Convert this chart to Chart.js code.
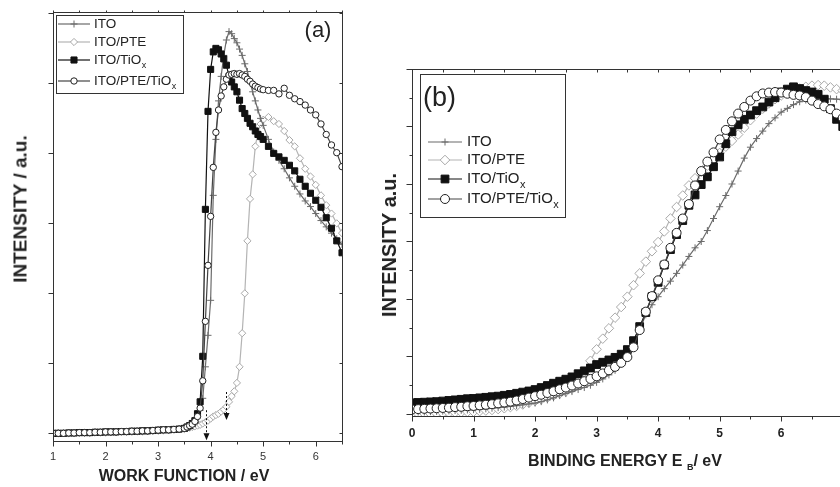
<!DOCTYPE html>
<html>
<head>
<meta charset="utf-8">
<script src="https://cdn.jsdelivr.net/npm/chart.js@4/dist/chart.umd.min.js"></script>
<style>
html, body { margin: 0; padding: 0; background: #fff; }
#wrap { position: relative; width: 840px; height: 487px; overflow: hidden; font-family: "Liberation Sans", Arial, sans-serif; color: #222; }
#boxA { position: absolute; left: 0; top: 0; width: 360px; height: 487px; }
#boxB { position: absolute; left: 380px; top: 0; width: 500px; height: 487px; }
.t { position: absolute; white-space: nowrap; line-height: 1; }
.b { font-weight: bold; }
.rot { transform: translate(-50%, -50%) rotate(-90deg); }
.hor { transform: translate(-50%, -50%); }
sub { font-size: 9px; vertical-align: -4px; }
</style>
</head>
<body>
<div id="wrap">
  <div id="boxA"><canvas id="chartA"></canvas></div>
  <div id="boxB"><canvas id="chartB"></canvas></div>
  <div class="t b rot" style="left:20px; top:209px; font-size:19px;">INTENSITY / a.u.</div>
  <div class="t b hor" style="left:184px; top:476px; font-size:16px;">WORK FUNCTION / eV</div>
  <div class="t hor" style="left:318px; top:30px; font-size:22px;">(a)</div>
  <div class="t b rot" style="left:389px; top:245px; font-size:20px;">INTENSITY a.u.</div>
  <div class="t b hor" style="left:625px; top:462px; font-size:16px;">BINDING ENERGY E <sub>B</sub>/ eV</div>
  <div class="t" style="left:423px; top:84px; font-size:27px;">(b)</div>
</div>
<script>
// series names (legend order)
const seriesNames = ['ITO', 'ITO/PTE', 'ITO/TiO_x', 'ITO/PTE/TiO_x'];

// ---- panel (a): work function ----
const wfX = [1.0,1.1,1.2,1.3,1.4,1.5,1.6,1.7,1.8,1.9,2.0,2.1,2.2,2.3,2.4,2.5,2.6,2.7,2.8,2.9,3.0,3.1,3.2,3.3,3.4,3.5,
  3.55,3.6,3.65,3.7,3.75,3.8,3.85,3.9,3.95,4.0,4.05,4.1,4.15,4.2,4.25,4.3,4.35,4.4,4.45,4.5,4.55,4.6,4.65,4.7,4.75,4.8,4.85,4.9,4.95,5.0,
  5.1,5.2,5.3,5.4,5.5,5.6,5.7,5.8,5.9,6.0,6.1,6.2,6.3,6.4,6.5];

const wfITO = [0,0,0,0.005,0.005,0.01,0.01,0.01,0.015,0.015,0.02,0.02,0.02,0.025,0.025,0.03,0.03,0.035,0.035,0.04,0.045,0.05,0.05,0.055,0.06,0.07,
  0.08,0.1,0.12,0.16,0.22,0.33,0.5,0.95,1.4,1.9,3.4,4.2,4.75,5.1,5.4,5.62,5.74,5.71,5.64,5.58,5.49,5.40,5.28,5.17,5.02,4.88,4.75,4.62,4.50,4.40,
  4.20,4.02,3.90,3.78,3.65,3.53,3.42,3.32,3.24,3.14,3.04,2.95,2.86,2.78,2.70];

const wfPTE = [0,0,0,0,0,0.005,0.005,0.005,0.01,0.01,0.01,0.015,0.015,0.02,0.02,0.02,0.025,0.025,0.03,0.03,0.035,0.04,0.045,0.05,0.055,0.06,
  0.07,0.08,0.09,0.1,0.11,0.12,0.14,0.16,0.18,0.21,0.24,0.26,0.28,0.31,0.34,0.38,0.45,0.53,0.6,0.72,0.95,1.43,2.0,2.75,3.35,3.7,4.1,4.3,4.42,4.48,
  4.52,4.46,4.42,4.32,4.19,4.10,3.93,3.78,3.67,3.55,3.40,3.26,3.14,3.00,2.86];

const wfTiO = [0,0,0,0.005,0.005,0.01,0.01,0.01,0.015,0.015,0.02,0.02,0.02,0.025,0.025,0.03,0.03,0.035,0.035,0.04,0.045,0.05,0.05,0.055,0.06,0.07,
  0.09,0.11,0.14,0.18,0.28,0.45,1.1,3.2,4.6,5.2,5.45,5.5,5.48,5.42,5.35,5.26,5.1,5.02,4.95,4.88,4.76,4.64,4.57,4.5,4.43,4.38,4.32,4.27,4.24,4.2,
  4.10,4.0,3.95,3.90,3.83,3.75,3.63,3.53,3.43,3.33,3.23,3.08,2.93,2.75,2.58];

const wfPTETiO = [0,0,0,0.005,0.005,0.01,0.01,0.01,0.015,0.015,0.02,0.02,0.02,0.025,0.025,0.03,0.03,0.035,0.035,0.04,0.045,0.05,0.05,0.055,0.06,0.07,
  0.09,0.11,0.13,0.17,0.24,0.36,0.75,1.6,2.4,3.1,3.8,4.3,4.62,4.82,4.95,5.06,5.12,5.13,5.14,5.13,5.14,5.12,5.1,5.06,5.03,4.99,4.96,4.94,4.92,4.91,
  4.90,4.90,4.85,4.93,4.83,4.78,4.74,4.69,4.62,4.55,4.42,4.27,4.12,4.01,3.81];

// dashed arrows marking onsets in (a)
const arrowX = [3.91, 4.29];
const arrowFrom = [0.33, 0.59];
const arrowTo = [-0.1, 0.19];

// ---- panel (b): binding energy ----
const beX = [0.0,0.1,0.2,0.3,0.4,0.5,0.6,0.7,0.8,0.9,1.0,1.1,1.2,1.3,1.4,1.5,1.6,1.7,1.8,1.9,2.0,2.1,2.2,2.3,2.4,2.5,2.6,2.7,2.8,2.9,
  3.0,3.1,3.2,3.3,3.4,3.5,3.6,3.7,3.8,3.9,4.0,4.1,4.2,4.3,4.4,4.5,4.6,4.7,4.8,4.9,5.0,5.1,5.2,5.3,5.4,5.5,5.6,5.7,5.8,5.9,
  6.0,6.1,6.2,6.3,6.4,6.5,6.6,6.7,6.8,6.9,7.0];

const beITO = [0.06,0.07,0.07,0.08,0.09,0.10,0.11,0.12,0.13,0.14,
  0.15,0.16,0.18,0.20,0.22,0.24,0.26,0.29,0.32,0.35,
  0.38,0.43,0.49,0.56,0.64,0.71,0.78,0.85,0.92,1.00,
  1.10,1.22,1.36,1.52,1.74,2.02,2.45,2.95,3.45,3.80,
  4.08,4.36,4.62,4.89,5.18,5.48,5.78,6.00,6.38,6.80,
  7.21,7.60,8.00,8.45,8.90,9.28,9.58,9.84,10.10,10.30,
  10.50,10.63,10.76,10.86,10.92,10.96,10.97,10.97,10.96,10.95,
  10.93];

const bePTE = [0.00,0.00,0.01,0.01,0.02,0.03,0.04,0.05,0.06,0.07,
  0.08,0.10,0.12,0.14,0.17,0.20,0.24,0.28,0.33,0.39,
  0.45,0.51,0.57,0.64,0.71,0.78,0.88,1.05,1.45,1.85,
  2.25,2.62,2.98,3.35,3.72,4.08,4.48,4.89,5.30,5.66,
  5.98,6.35,6.80,7.20,7.60,7.95,8.20,8.42,8.64,8.86,
  9.08,9.30,9.50,9.72,9.96,10.22,10.45,10.62,10.80,10.95,
  11.08,11.18,11.26,11.32,11.38,11.42,11.44,11.42,11.36,11.30,
  11.25];

const beTiO = [0.39,0.40,0.41,0.42,0.43,0.45,0.47,0.49,0.51,0.53,
  0.54,0.56,0.58,0.60,0.62,0.65,0.68,0.72,0.76,0.80,
  0.85,0.92,0.99,1.07,1.14,1.21,1.29,1.40,1.50,1.60,
  1.72,1.80,1.88,1.97,2.08,2.24,2.55,3.04,3.53,4.08,
  4.58,5.18,5.72,6.24,6.73,7.26,7.62,7.98,8.25,8.60,
  8.94,9.40,9.82,10.06,10.25,10.40,10.55,10.68,10.85,11.00,
  11.20,11.30,11.38,11.32,11.25,11.20,11.12,10.95,10.62,10.25,
  10.00];

const bePTETiO = [0.16,0.17,0.18,0.19,0.20,0.21,0.22,0.24,0.25,0.27,
  0.28,0.30,0.32,0.34,0.37,0.40,0.43,0.47,0.52,0.57,
  0.62,0.67,0.73,0.79,0.86,0.92,0.99,1.06,1.14,1.22,
  1.31,1.41,1.52,1.64,1.78,1.98,2.32,2.92,3.56,4.10,
  4.65,5.20,5.78,6.30,6.80,7.30,7.95,8.45,8.78,9.10,
  9.55,9.88,10.18,10.45,10.68,10.90,11.05,11.15,11.18,11.20,
  11.18,11.14,11.10,11.08,11.02,10.90,10.78,10.70,10.60,10.45,
  10.30];

const FONT = '"Liberation Sans", Arial, sans-serif';

// marker shapes, same geometry as Chart.js point styles
function drawMarker(ctx, style, r, x, y, fill, stroke) {
  ctx.beginPath();
  if (style === 'circle') {
    ctx.arc(x, y, r, 0, Math.PI * 2);
  } else if (style === 'rect') {
    const s = Math.SQRT1_2 * r;
    ctx.rect(x - s, y - s, 2 * s, 2 * s);
  } else if (style === 'rectRot') {
    ctx.moveTo(x - r, y); ctx.lineTo(x, y - r); ctx.lineTo(x + r, y); ctx.lineTo(x, y + r);
    ctx.closePath();
  } else if (style === 'cross') {
    ctx.moveTo(x, y - r); ctx.lineTo(x, y + r); ctx.moveTo(x - r, y); ctx.lineTo(x + r, y);
  }
  if (style !== 'cross') { ctx.fillStyle = fill; ctx.fill(); }
  ctx.strokeStyle = stroke; ctx.lineWidth = 1; ctx.stroke();
}

const frameTicks = {
  id: 'frameTicks',
  afterDraw(chart, args, o) {
    const { ctx, chartArea: a, scales: { x, y } } = chart;
    const L = Math.round(a.left) + 0.5, R = Math.round(a.right) + 0.5;
    const T = Math.round(a.top) + 0.5, B = Math.round(a.bottom) + 0.5;
    ctx.save();
    ctx.strokeStyle = '#333';
    ctx.lineWidth = 1;
    ctx.strokeRect(L, T, R - L, B - T);
    ctx.beginPath();
    x.ticks.forEach(t => {
      const px = Math.round(x.getPixelForValue(t.value)) + 0.5;
      const major = Math.abs(t.value - Math.round(t.value)) < 1e-6;
      ctx.moveTo(px, B); ctx.lineTo(px, B + (major ? o.xMajor : o.xMinor));
      ctx.moveTo(px, T); ctx.lineTo(px, T + o.topTick);
    });
    y.ticks.forEach(t => {
      const py = Math.round(y.getPixelForValue(t.value)) + 0.5;
      const major = Math.round(t.value) % o.yMajorEvery === 0;
      ctx.moveTo(L, py); ctx.lineTo(L - (major ? o.yMajor : o.yMinor), py);
      ctx.moveTo(R, py); ctx.lineTo(R - o.rightTick, py);
    });
    ctx.stroke();
    ctx.restore();
  }
};

const arrows = {
  id: 'arrows',
  afterDatasetsDraw(chart, args, o) {
    if (!o.xs) return;
    const { ctx, scales: { x, y } } = chart;
    ctx.save();
    ctx.strokeStyle = '#111';
    ctx.fillStyle = '#111';
    ctx.lineWidth = 1;
    o.xs.forEach((v, i) => {
      const px = Math.round(x.getPixelForValue(v)) + 0.5;
      const y1 = y.getPixelForValue(o.from[i]);
      const y2 = y.getPixelForValue(o.to[i]);
      ctx.setLineDash([2, 2]);
      ctx.beginPath(); ctx.moveTo(px, y1); ctx.lineTo(px, y2 - 6); ctx.stroke();
      ctx.setLineDash([]);
      ctx.beginPath(); ctx.moveTo(px - 3, y2 - 7); ctx.lineTo(px + 3, y2 - 7); ctx.lineTo(px, y2); ctx.closePath(); ctx.fill();
    });
    ctx.restore();
  }
};

const boxLegend = {
  id: 'boxLegend',
  afterDraw(chart, args, o) {
    if (!o.box) return;
    const ctx = chart.ctx;
    const [bx, by, bw, bh] = o.box;
    ctx.save();
    ctx.fillStyle = '#fff';
    ctx.fillRect(bx, by, bw, bh);
    ctx.strokeStyle = '#333';
    ctx.lineWidth = 1;
    ctx.strokeRect(bx + 0.5, by + 0.5, bw, bh);
    chart.data.datasets.forEach((ds, i) => {
      const yy = o.rows[i];
      ctx.strokeStyle = ds.borderColor;
      ctx.lineWidth = ds.borderWidth;
      ctx.beginPath(); ctx.moveTo(o.line[0], yy); ctx.lineTo(o.line[1], yy); ctx.stroke();
      drawMarker(ctx, ds.pointStyle, ds.pointRadius, (o.line[0] + o.line[1]) / 2, yy, ds.pointBackgroundColor, ds.pointBorderColor);
      const parts = ds.label.split('_');
      ctx.fillStyle = '#222';
      ctx.textBaseline = 'middle';
      ctx.font = o.size + 'px ' + FONT;
      ctx.fillText(parts[0], o.textX, yy);
      if (parts[1]) {
        const w = ctx.measureText(parts[0]).width;
        ctx.font = Math.round(o.size * 0.7) + 'px ' + FONT;
        ctx.fillText(parts[1], o.textX + w + 0.5, yy + o.size * 0.42);
      }
    });
    ctx.restore();
  }
};

function makeSets(xs, ys, big) {
  const styles = [
    { c: '#6b6b6b', ps: 'cross', r: 3.5, bg: '#6b6b6b', bc: '#6b6b6b', order: 2 },
    { c: '#b4b4b4', ps: 'rectRot', r: big ? 4.8 : 3.6, bg: '#fff', bc: '#a8a8a8', order: 3 },
    { c: '#111', ps: 'rect', r: big ? 5.5 : 4.3, bg: '#111', bc: '#111', order: 1 },
    { c: '#444', ps: 'circle', r: big ? 4.5 : 3.2, bg: '#fff', bc: '#222', order: 0 }
  ];
  return ys.map((arr, i) => ({
    label: seriesNames[i],
    data: xs.map((x, k) => ({ x: x, y: arr[k] })),
    borderColor: styles[i].c,
    borderWidth: 1.2,
    pointStyle: styles[i].ps,
    pointRadius: styles[i].r,
    pointBackgroundColor: styles[i].bg,
    pointBorderColor: styles[i].bc,
    pointBorderWidth: 1,
    tension: 0,
    order: styles[i].order
  }));
}

Chart.defaults.font.family = FONT;

new Chart(document.getElementById('chartA'), {
  type: 'line',
  data: { datasets: makeSets(wfX, [wfITO, wfPTE, wfTiO, wfPTETiO], false) },
  options: {
    responsive: true,
    maintainAspectRatio: false,
    animation: false,
    layout: { padding: { top: 12, right: 18, left: 0, bottom: 0 } },
    plugins: {
      legend: { display: false },
      tooltip: { enabled: false },
      arrows: { xs: arrowX, from: arrowFrom, to: arrowTo },
      boxLegend: { box: [56, 15, 127, 78], rows: [24, 42, 60, 81], line: [58, 90], textX: 94, size: 13.5 },
      frameTicks: { xMajor: 5, xMinor: 3, topTick: -2, yMajor: 5, yMinor: 5, yMajorEvery: 1, rightTick: 3 }
    },
    scales: {
      x: {
        type: 'linear', min: 1, max: 6.5,
        grid: { display: false }, border: { display: false },
        ticks: { stepSize: 0.5, autoSkip: false, maxRotation: 0, padding: 1, color: '#333', font: { size: 11 },
          callback: v => Number.isInteger(v) ? String(v) : '' },
        afterFit: s => { s.height = 46; }
      },
      y: {
        type: 'linear', min: -0.11, max: 6.02,
        grid: { display: false }, border: { display: false },
        ticks: { stepSize: 1, includeBounds: false, display: false },
        afterFit: s => { s.width = 53; }
      }
    }
  },
  plugins: [frameTicks, arrows, boxLegend]
});

new Chart(document.getElementById('chartB'), {
  type: 'line',
  data: { datasets: makeSets(beX, [beITO, bePTE, beTiO, bePTETiO], true) },
  options: {
    responsive: true,
    maintainAspectRatio: false,
    animation: false,
    layout: { padding: { top: 69, right: 6, left: 0, bottom: 0 } },
    plugins: {
      legend: { display: false },
      tooltip: { enabled: false },
      boxLegend: { box: [40, 74, 145, 143], rows: [142, 160, 179, 199], line: [48, 82], textX: 87, size: 15 },
      frameTicks: { xMajor: 5, xMinor: 3, topTick: 3, yMajor: 6, yMinor: 3, yMajorEvery: 2, rightTick: 3 }
    },
    scales: {
      x: {
        type: 'linear', min: 0, max: 7.5,
        grid: { display: false }, border: { display: false },
        ticks: { stepSize: 0.5, autoSkip: false, maxRotation: 0, padding: 2, color: '#222', font: { size: 12, weight: 'bold' },
          callback: v => Number.isInteger(v) ? String(v) : '' },
        afterFit: s => { s.height = 71; }
      },
      y: {
        type: 'linear', min: -0.07, max: 12,
        grid: { display: false }, border: { display: false },
        ticks: { stepSize: 1, includeBounds: false, display: false },
        afterFit: s => { s.width = 32; }
      }
    }
  },
  plugins: [frameTicks, boxLegend]
});
</script>
</body>
</html>
